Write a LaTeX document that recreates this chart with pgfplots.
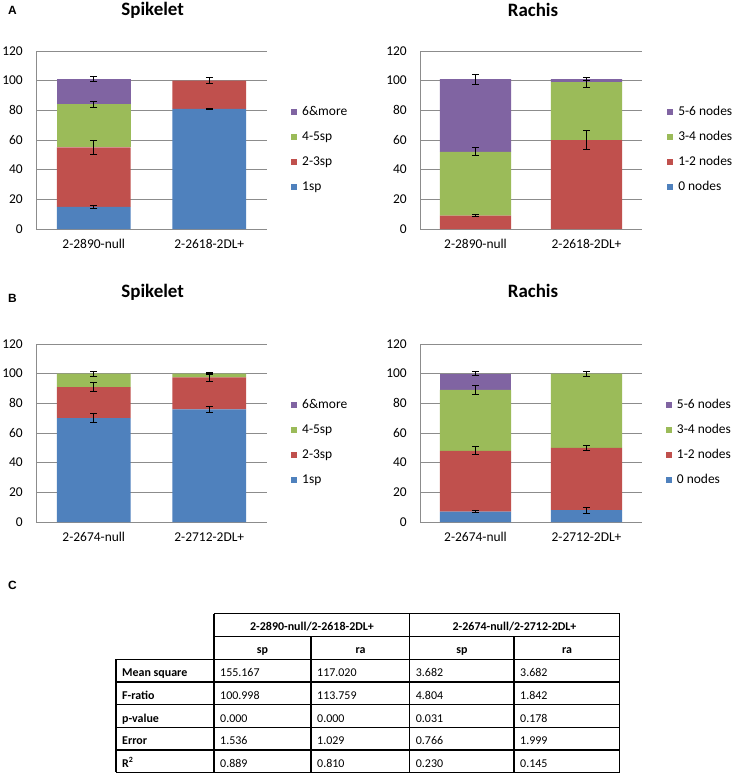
\documentclass[border=0pt]{standalone}
\usepackage{pgfplots}
\pgfplotsset{compat=1.18}
\usepackage{fontspec}
\setmainfont{Carlito}
\newfontfamily\arialfont{Liberation Sans}
\definecolor{cblue}{HTML}{4F81BD}
\definecolor{cred}{HTML}{C0504D}
\definecolor{cgreen}{HTML}{9BBB59}
\definecolor{cpurple}{HTML}{8064A2}
\definecolor{gridgray}{HTML}{8C8C8C}
\newcommand\tabfont{\fontsize{12}{14}\selectfont}
\newcommand\ticfont{\fontsize{13.5}{16}\selectfont}
\pgfplotsset{
 common/.style={scale only axis, xmin=-0.5, xmax=1.5, ymin=0, ymax=120, height=178bp, anchor=south west},
 barax/.style={common, ybar stacked, bar width=0.64, ytick={0,20,...,120}, xtick={0,1},
   ymajorgrids, major grid style={draw=gridgray, line width=0.75bp},
   axis x line*=bottom, axis y line*=left, axis line style={draw=gridgray, line width=0.75bp},
   major tick length=0pt, tick style={draw=none},
   /pgf/number format/assume math mode=true,
   ticklabel style={font=\ticfont, inner sep=0pt},
   yticklabel style={xshift=-13bp},
   xticklabel style={yshift=-10bp, text height=9.5bp, text depth=3bp},
   reverse legend, legend cell align=left,
   legend style={draw=none, fill=none, font=\ticfont, anchor=west, inner sep=0pt, row sep=12.5bp, column sep=5bp,
     nodes={inner sep=0pt, text height=9.5bp, text depth=3bp}},
   legend image code/.code={\fill[##1] (0bp,-3bp) rectangle (6bp,3bp);}},
 ebax/.style={common, hide axis},
 eb/.style={draw=none, mark=none, error bars/.cd, y dir=both, y explicit,
   error bar style={draw=black, line width=0.9bp},
   error mark options={draw=black, line width=0.9bp, mark size=3.5bp, rotate=90}},
}
\begin{document}
\begin{tikzpicture}
\useasboundingbox (0,0) rectangle (735bp,-776bp);
\fill[white] (0,0) rectangle (735bp,-776bp);

% ---------------- A Spikelet
\begin{axis}[barax, at={(36bp,-229bp)}, width=231bp, xticklabels={2-2890-null,2-2618-2DL+},
  legend style={at={(1.104,0.444)}}]
\addplot[fill=cblue, draw=none] coordinates {(0,15) (1,81)}; \addlegendentry{1sp}
\addplot[fill=cred, draw=none] coordinates {(0,40) (1,19)}; \addlegendentry{2-3sp}
\addplot[fill=cgreen, draw=none] coordinates {(0,29) (1,0)}; \addlegendentry{4-5sp}
\addplot[fill=cpurple, draw=none] coordinates {(0,17) (1,0)}; \addlegendentry{6\&more}
\end{axis}
\begin{axis}[ebax, at={(36bp,-229bp)}, width=231bp]
\addplot[eb] coordinates {(0,15) +- (0,1) (0,55) +- (0,4.6) (0,84) +- (0,1.9) (0,101) +- (0,1.8) (1,81) +- (0,0.3) (1,100) +- (0,1.9)};
\end{axis}

% ---------------- A Rachis
\begin{axis}[barax, at={(420bp,-229bp)}, width=222bp, xticklabels={2-2890-null,2-2618-2DL+},
  legend style={at={(1.113,0.444)}}]
\addplot[fill=cblue, draw=none] coordinates {(0,0) (1,0)}; \addlegendentry{0 nodes}
\addplot[fill=cred, draw=none] coordinates {(0,9) (1,60)}; \addlegendentry{1-2 nodes}
\addplot[fill=cgreen, draw=none] coordinates {(0,43) (1,39)}; \addlegendentry{3-4 nodes}
\addplot[fill=cpurple, draw=none] coordinates {(0,49) (1,2)}; \addlegendentry{5-6 nodes}
\end{axis}
\begin{axis}[ebax, at={(420bp,-229bp)}, width=222bp]
\addplot[eb] coordinates {(0,9) +- (0,0.5) (0,52) +- (0,2.7) (0,101) +- (0,3.4) (1,60) +- (0,6.5) (1,99) +- (0,3.5) (1,101) +- (0,1)};
\end{axis}

% ---------------- B Spikelet
\begin{axis}[barax, at={(36bp,-522bp)}, width=231bp, xticklabels={2-2674-null,2-2712-2DL+},
  legend style={at={(1.104,0.447)}}]
\addplot[fill=cblue, draw=none] coordinates {(0,70) (1,76)}; \addlegendentry{1sp}
\addplot[fill=cred, draw=none] coordinates {(0,21) (1,21.5)}; \addlegendentry{2-3sp}
\addplot[fill=cgreen, draw=none] coordinates {(0,9) (1,2.5)}; \addlegendentry{4-5sp}
\addplot[fill=cpurple, draw=none] coordinates {(0,0) (1,0)}; \addlegendentry{6\&more}
\end{axis}
\begin{axis}[ebax, at={(36bp,-522bp)}, width=231bp]
\addplot[eb] coordinates {(0,70) +- (0,2.9) (0,91) +- (0,2.8) (0,100) +- (0,1.6) (1,76) +- (0,2) (1,97.5) +- (0,2.9) (1,100) +- (0,0.6)};
\end{axis}

% ---------------- B Rachis
\begin{axis}[barax, at={(420bp,-522bp)}, width=222bp, xticklabels={2-2674-null,2-2712-2DL+},
  legend style={at={(1.107,0.447)}}]
\addplot[fill=cblue, draw=none] coordinates {(0,7) (1,8)}; \addlegendentry{0 nodes}
\addplot[fill=cred, draw=none] coordinates {(0,41) (1,42)}; \addlegendentry{1-2 nodes}
\addplot[fill=cgreen, draw=none] coordinates {(0,41) (1,50)}; \addlegendentry{3-4 nodes}
\addplot[fill=cpurple, draw=none] coordinates {(0,11) (1,0)}; \addlegendentry{5-6 nodes}
\end{axis}
\begin{axis}[ebax, at={(420bp,-522bp)}, width=222bp]
\addplot[eb] coordinates {(0,7) +- (0,0.5) (0,48) +- (0,2.7) (0,89) +- (0,2.8) (0,100) +- (0,1.5) (1,8) +- (0,2) (1,50) +- (0,1.7) (1,100) +- (0,1.8)};
\end{axis}

% ---------------- titles and panel letters
\node[anchor=base, font=\fontsize{19}{22}\selectfont\bfseries] at (152.7bp,-15.7bp) {Spikelet};
\node[anchor=base, font=\fontsize{19}{22}\selectfont\bfseries] at (533bp,-16.5bp) {Rachis};
\node[anchor=base, font=\fontsize{19}{22}\selectfont\bfseries] at (152.7bp,-297bp) {Spikelet};
\node[anchor=base, font=\fontsize{19}{22}\selectfont\bfseries] at (533bp,-297bp) {Rachis};
\node[anchor=base west, inner sep=0pt, font=\arialfont\fontsize{12}{14}\selectfont\bfseries] at (8bp,-14.3bp) {A};
\node[anchor=base west, inner sep=0pt, font=\arialfont\fontsize{12}{14}\selectfont\bfseries] at (8bp,-302.7bp) {B};
\node[anchor=base west, inner sep=0pt, font=\arialfont\fontsize{12}{14}\selectfont\bfseries] at (8bp,-589bp) {C};

% ---------------- table C
\begin{scope}[line width=1.5bp]
\draw (214bp,-613.5bp) -- (620bp,-613.5bp);
\draw (214bp,-636.7bp) -- (620bp,-636.7bp);
\foreach \yy in {659.3,682,704.7,727.3,750,772.3} {\draw (116bp,-\yy bp) -- (620bp,-\yy bp);}
\draw (116bp,-659.3bp) -- (116bp,-772.3bp);
\draw (214bp,-613.5bp) -- (214bp,-772.3bp);
\draw (311bp,-636.7bp) -- (311bp,-772.3bp);
\draw (409.5bp,-613.5bp) -- (409.5bp,-772.3bp);
\draw (514bp,-636.7bp) -- (514bp,-772.3bp);
\draw (619.5bp,-613.5bp) -- (619.5bp,-772.3bp);
\end{scope}
\node[anchor=base, font=\tabfont\bfseries] at (312bp,-630.7bp) {2-2890-null/2-2618-2DL+};
\node[anchor=base, font=\tabfont\bfseries] at (514.5bp,-630.7bp) {2-2674-null/2-2712-2DL+};
\node[anchor=base, font=\tabfont\bfseries] at (262.5bp,-653bp) {sp};
\node[anchor=base, font=\tabfont\bfseries] at (360.5bp,-653bp) {ra};
\node[anchor=base, font=\tabfont\bfseries] at (462bp,-653bp) {sp};
\node[anchor=base, font=\tabfont\bfseries] at (567bp,-653bp) {ra};
\foreach \lab/\yb/\a/\b/\c/\d in {Mean square/676/155.167/117.020/3.682/3.682,
  F-ratio/699.2/100.998/113.759/4.804/1.842,
  p-value/722/0.000/0.000/0.031/0.178,
  Error/744.4/1.536/1.029/0.766/1.999,
  R\textsuperscript{2}/767.2/0.889/0.810/0.230/0.145} {
  \node[anchor=base west, inner sep=0pt, font=\tabfont\bfseries] at (122bp,-\yb bp) {\lab};
  \node[anchor=base west, inner sep=0pt, font=\tabfont] at (220bp,-\yb bp) {\a};
  \node[anchor=base west, inner sep=0pt, font=\tabfont] at (317bp,-\yb bp) {\b};
  \node[anchor=base west, inner sep=0pt, font=\tabfont] at (415.7bp,-\yb bp) {\c};
  \node[anchor=base west, inner sep=0pt, font=\tabfont] at (520bp,-\yb bp) {\d};
}
\end{tikzpicture}
\end{document}
